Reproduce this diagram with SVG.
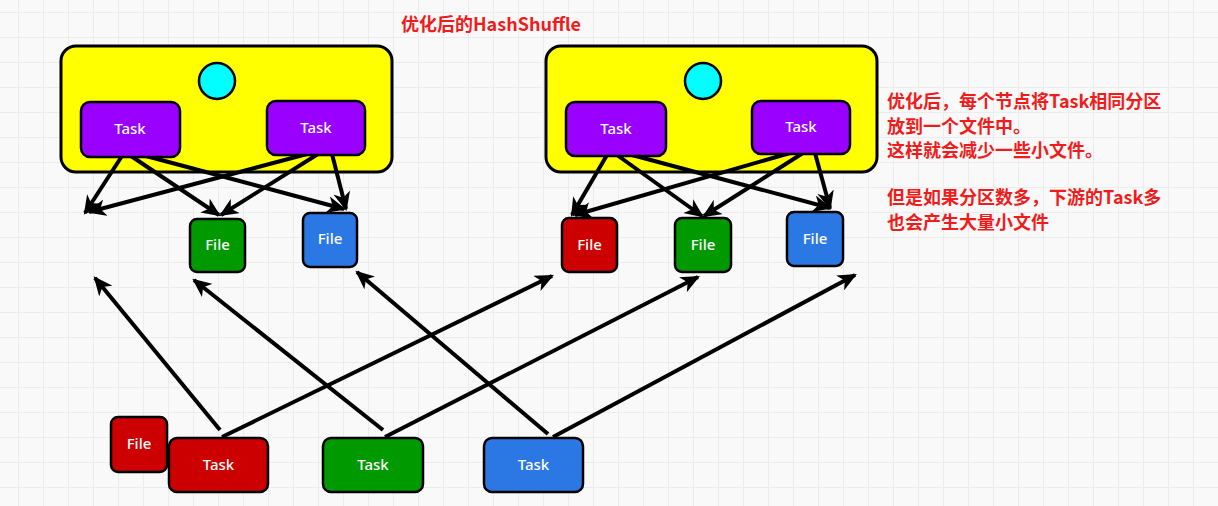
<svg xmlns="http://www.w3.org/2000/svg" width="1218" height="506" viewBox="0 0 1218 506">
<defs>
<pattern id="grid" x="18" y="12" width="25" height="25" patternUnits="userSpaceOnUse">
<path d="M0,0 H25 M0,0 V25" stroke="#ececec" stroke-width="2" fill="none"/>
</pattern>
<marker id="ah" markerUnits="userSpaceOnUse" viewBox="0 0 18 16" markerWidth="19" markerHeight="17" refX="16" refY="8" orient="auto">
<path d="M0,0 L18,8 L0,16 L5,8 z" fill="#000"/>
</marker>
<style>
.box{stroke:#000;stroke-width:3}
.node{stroke:#000;stroke-width:2.5}
.lbl{font-family:"Noto Sans","Open Sans",sans-serif;font-size:15px;font-weight:500;fill:#fff;text-anchor:middle;dominant-baseline:central}
.note{font-family:"Noto Sans CJK SC","Noto Sans",sans-serif;font-size:18px;font-weight:700;fill:#f01c1c}
.conn line{stroke:#000;stroke-width:4;marker-end:url(#ah)}
</style>
</defs>
<rect width="1218" height="506" fill="#f9f9f9"/>
<rect width="1218" height="506" fill="url(#grid)"/>

<text class="note" x="491" y="31" text-anchor="middle">优化后的HashShuffle</text>

<g id="node-left">
<rect class="box" x="61" y="46" width="331" height="126" rx="15" fill="#ffff00"/>
<circle class="node" cx="217" cy="81" r="18" fill="#00ffff"/>
</g>
<g id="node-right">
<rect class="box" x="546" y="46" width="331" height="126" rx="15" fill="#ffff00"/>
<circle class="node" cx="703" cy="81" r="18" fill="#00ffff"/>
</g>

<g id="connectors" class="conn">
<line x1="122" y1="156" x2="85" y2="213"/>
<line x1="131" y1="156" x2="219" y2="215"/>
<line x1="146" y1="156" x2="344" y2="209"/>
<line x1="307" y1="154" x2="89" y2="212"/>
<line x1="318" y1="154" x2="221" y2="215"/>
<line x1="332" y1="154" x2="346" y2="209"/>
<line x1="607" y1="155" x2="572" y2="215"/>
<line x1="617" y1="155" x2="702" y2="216"/>
<line x1="632" y1="155" x2="830" y2="208"/>
<line x1="790" y1="153" x2="575" y2="215"/>
<line x1="803" y1="153" x2="704" y2="216"/>
<line x1="815" y1="153" x2="830" y2="208"/>
<line x1="220" y1="430" x2="95" y2="278"/>
<line x1="222" y1="437" x2="552" y2="276"/>
<line x1="383" y1="430" x2="194" y2="280"/>
<line x1="385" y1="437" x2="698" y2="277"/>
<line x1="548" y1="434" x2="357" y2="272"/>
<line x1="553" y1="437" x2="855" y2="275"/>
</g>

<g id="task-l1"><rect class="node" x="81" y="102" width="99" height="55" rx="9" fill="#9900ff"/><text class="lbl" x="130" y="128">Task</text></g>
<g id="task-l2"><rect class="node" x="267" y="101" width="98" height="54" rx="9" fill="#9900ff"/><text class="lbl" x="316" y="127">Task</text></g>
<g id="task-r1"><rect class="node" x="566" y="102" width="100" height="54" rx="9" fill="#9900ff"/><text class="lbl" x="616" y="128">Task</text></g>
<g id="task-r2"><rect class="node" x="752" y="101" width="98" height="53" rx="9" fill="#9900ff"/><text class="lbl" x="801" y="126">Task</text></g>

<g id="file-l-green"><rect class="node" x="190" y="219" width="55" height="53" rx="7" fill="#009900"/><text class="lbl" x="217.5" y="244">File</text></g>
<g id="file-l-blue"><rect class="node" x="303" y="213" width="54" height="54" rx="7" fill="#2b78e4"/><text class="lbl" x="330" y="238">File</text></g>
<g id="file-r-red"><rect class="node" x="562" y="218" width="55" height="54" rx="7" fill="#cc0000"/><text class="lbl" x="589.5" y="244">File</text></g>
<g id="file-r-green"><rect class="node" x="675" y="218" width="56" height="54" rx="7" fill="#009900"/><text class="lbl" x="703" y="244">File</text></g>
<g id="file-r-blue"><rect class="node" x="787" y="212" width="56" height="54" rx="7" fill="#2b78e4"/><text class="lbl" x="815" y="238">File</text></g>

<g id="file-b-red"><rect class="node" x="111" y="417" width="56" height="55" rx="7" fill="#cc0000"/><text class="lbl" x="139" y="443">File</text></g>
<g id="task-b-red"><rect class="node" x="169" y="438" width="99" height="54" rx="8" fill="#cc0000"/><text class="lbl" x="218.5" y="464">Task</text></g>
<g id="task-b-green"><rect class="node" x="323" y="438" width="100" height="54" rx="8" fill="#009900"/><text class="lbl" x="373" y="464">Task</text></g>
<g id="task-b-blue"><rect class="node" x="484" y="438" width="99" height="54" rx="8" fill="#2b78e4"/><text class="lbl" x="533.5" y="464">Task</text></g>

<g id="notes" class="note">
<text x="887" y="108">优化后，每个节点将Task相同分区</text>
<text x="887" y="133">放到一个文件中。</text>
<text x="887" y="157">这样就会减少一些小文件。</text>
<text x="887" y="204">但是如果分区数多，下游的Task多</text>
<text x="887" y="229">也会产生大量小文件</text>
</g>
</svg>
